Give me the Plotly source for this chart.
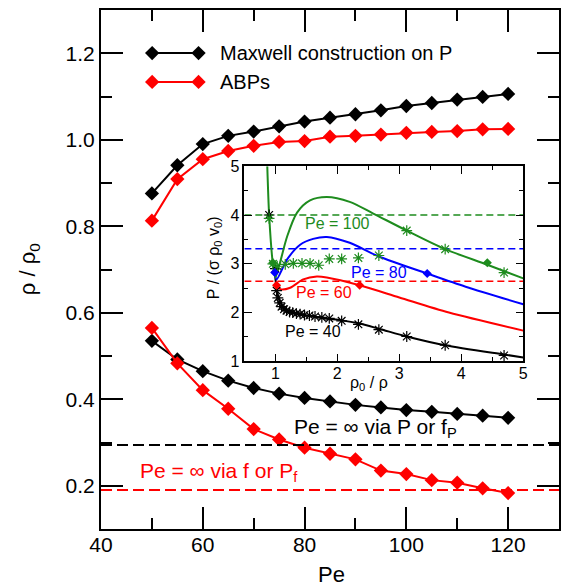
import plotly.graph_objects as go

# ---------------- main panel data ----------------
pe = [50, 55, 60, 65, 70, 75, 80, 85, 90, 95, 100, 105, 110, 115, 120]
maxwell_high = [0.876, 0.941, 0.990, 1.009, 1.019, 1.031, 1.042, 1.051, 1.059, 1.068, 1.078, 1.085, 1.093, 1.099, 1.106]
abp_high = [0.813, 0.909, 0.955, 0.974, 0.986, 0.995, 0.997, 1.007, 1.009, 1.012, 1.016, 1.018, 1.020, 1.024, 1.025]
maxwell_low = [0.535, 0.492, 0.465, 0.443, 0.426, 0.413, 0.403, 0.395, 0.387, 0.381, 0.375, 0.371, 0.366, 0.362, 0.357]
abp_low = [0.565, 0.483, 0.421, 0.378, 0.331, 0.307, 0.288, 0.274, 0.261, 0.235, 0.227, 0.213, 0.207, 0.194, 0.183]
pe_span = [40, 130]
inf_via_P = 0.294
inf_via_f = 0.190

# ---------------- inset data ----------------
c100_x = [0.87, 0.90, 0.96, 1.00, 1.07, 1.19, 1.35, 1.56, 1.83, 2.20, 2.58, 3.12, 3.74, 4.42, 5.00]
c100_y = [5.00, 4.00, 3.00, 2.72, 3.00, 3.56, 4.05, 4.30, 4.37, 4.27, 4.03, 3.68, 3.30, 2.98, 2.70]
c80_x = [0.99, 1.02, 1.19, 1.40, 1.61, 1.83, 2.20, 2.67, 3.45, 4.07, 5.00]
c80_y = [2.82, 2.68, 3.09, 3.39, 3.51, 3.55, 3.43, 3.15, 2.80, 2.53, 2.17]
c60_x = [1.02, 1.08, 1.24, 1.45, 1.67, 1.83, 2.36, 3.00, 3.80, 5.00]
c60_y = [2.56, 2.48, 2.51, 2.68, 2.74, 2.72, 2.56, 2.31, 2.00, 1.63]
c40_x = [0.99, 1.03, 1.08, 1.19, 1.45, 1.80, 2.07, 2.34, 2.67, 3.12, 3.74, 4.69, 5.00]
c40_y = [2.85, 2.41, 2.21, 2.04, 1.95, 1.88, 1.84, 1.78, 1.67, 1.51, 1.33, 1.14, 1.08]

s40_x = [0.90, 1.00, 1.02, 1.04, 1.07, 1.10, 1.14, 1.18, 1.23, 1.28, 1.34, 1.40, 1.47, 1.55, 1.64, 1.75, 1.87, 2.07, 2.34, 2.67, 3.12, 3.74, 4.69]
s40_y = [4.00, 2.90, 2.45, 2.30, 2.20, 2.12, 2.07, 2.04, 2.01, 2.00, 1.98, 1.97, 1.95, 1.94, 1.92, 1.90, 1.88, 1.83, 1.76, 1.65, 1.51, 1.33, 1.12]
s100_x = [0.90, 0.96, 1.03, 1.16, 1.29, 1.43, 1.56, 1.70, 1.87, 2.07, 2.34, 2.67, 3.12, 3.74, 4.69]
s100_y = [3.93, 3.00, 2.95, 2.99, 3.01, 3.01, 3.01, 2.97, 3.10, 3.10, 3.12, 3.17, 3.68, 3.30, 2.82]

d100_x, d100_y = [0.96, 4.42], [3.02, 3.02]
d80_x, d80_y = [0.99, 3.45], [2.82, 2.80]
d60_x, d60_y = [1.02, 2.36], [2.56, 2.56]

inset_span = [0.5, 5.0]
p_coex_100 = 4.00
p_coex_80 = 3.31
p_coex_60 = 2.64

GREEN = "#1e8c1e"
FONT = "Liberation Sans, Arial, Helvetica, sans-serif"

fig = go.Figure()


def main_line(y, color):
    fig.add_trace(go.Scatter(
        x=pe, y=y, mode="lines+markers", xaxis="x", yaxis="y",
        line=dict(color=color, width=2),
        marker=dict(symbol="diamond", size=11, color=color),
        showlegend=False, hoverinfo="skip"))


main_line(maxwell_high, "black")
main_line(abp_high, "red")
main_line(maxwell_low, "black")
main_line(abp_low, "red")

fig.add_trace(go.Scatter(x=pe_span, y=[inf_via_P, inf_via_P], mode="lines",
                         line=dict(color="black", width=2, dash="11px,5px"),
                         showlegend=False, hoverinfo="skip"))
fig.add_trace(go.Scatter(x=pe_span, y=[inf_via_f, inf_via_f], mode="lines",
                         line=dict(color="red", width=2, dash="11px,5px"),
                         showlegend=False, hoverinfo="skip"))

# inset
for yv, col in [(p_coex_100, GREEN), (p_coex_80, "blue"), (p_coex_60, "red")]:
    fig.add_trace(go.Scatter(x=inset_span, y=[yv, yv], mode="lines", xaxis="x2", yaxis="y2",
                             line=dict(color=col, width=1.5, dash="7px,4px"),
                             showlegend=False, hoverinfo="skip"))

for cx, cy, col in [(c40_x, c40_y, "black"), (c60_x, c60_y, "red"),
                    (c80_x, c80_y, "blue"), (c100_x, c100_y, GREEN)]:
    fig.add_trace(go.Scatter(x=cx, y=cy, mode="lines", xaxis="x2", yaxis="y2",
                             line=dict(color=col, width=2, shape="spline", smoothing=0.8),
                             showlegend=False, hoverinfo="skip"))

fig.add_trace(go.Scatter(x=s40_x, y=s40_y, mode="markers", xaxis="x2", yaxis="y2",
                         marker=dict(symbol="asterisk-open", size=9, color="black",
                                     line=dict(color="black", width=1.2)),
                         showlegend=False, hoverinfo="skip"))
fig.add_trace(go.Scatter(x=s100_x, y=s100_y, mode="markers", xaxis="x2", yaxis="y2",
                         marker=dict(symbol="asterisk-open", size=9, color=GREEN,
                                     line=dict(color=GREEN, width=1.2)),
                         showlegend=False, hoverinfo="skip"))
for dx, dy, col in [(d100_x, d100_y, GREEN), (d80_x, d80_y, "blue"), (d60_x, d60_y, "red")]:
    fig.add_trace(go.Scatter(x=dx, y=dy, mode="markers", xaxis="x2", yaxis="y2",
                             marker=dict(symbol="diamond", size=7, color=col),
                             showlegend=False, hoverinfo="skip"))

# legend samples on an overlay axis spanning the plot area
leg_x = [0.1117, 0.213]
for yy, col in [(0.917, "black"), (0.8615, "red")]:
    fig.add_trace(go.Scatter(x=leg_x, y=[yy, yy], mode="lines+markers", xaxis="x3", yaxis="y3",
                             line=dict(color=col, width=2),
                             marker=dict(symbol="diamond", size=11, color=col),
                             showlegend=False, hoverinfo="skip"))

# empty traces so the minor-tick overlay axes are instantiated
fig.add_trace(go.Scatter(x=[], y=[], xaxis="x4", yaxis="y4", showlegend=False, hoverinfo="skip"))
fig.add_trace(go.Scatter(x=[], y=[], xaxis="x5", yaxis="y5", showlegend=False, hoverinfo="skip"))

main_ax = dict(showline=True, linewidth=2, linecolor="black", mirror="ticks",
               ticks="inside", ticklen=22, tickwidth=2, tickcolor="black",
               showgrid=False, zeroline=False,
               tickfont=dict(family=FONT, size=21, color="black"))
main_minor = dict(showline=False, mirror="ticks", ticks="inside", ticklen=11, tickwidth=2,
                  tickcolor="black", showgrid=False, zeroline=False, showticklabels=False)
inset_ax = dict(showline=True, linewidth=1.5, linecolor="black", mirror="ticks",
                ticks="inside", ticklen=8, tickwidth=1.2, tickcolor="black",
                showgrid=False, zeroline=False,
                tickfont=dict(family=FONT, size=16, color="black"))
inset_minor = dict(showline=False, mirror="ticks", ticks="inside", ticklen=4, tickwidth=1.2,
                   tickcolor="black", showgrid=False, zeroline=False, showticklabels=False)

fig.update_layout(
    width=566, height=588,
    margin=dict(l=101, r=2, t=9, b=59),
    paper_bgcolor="white", plot_bgcolor="rgba(0,0,0,0)",
    showlegend=False,
    xaxis=dict(range=[40, 130], dtick=20, tick0=0, domain=[0, 1], anchor="y",
               ticklabelstandoff=-4, **main_ax),
    yaxis=dict(range=[0.1, 1.3], dtick=0.2, tick0=0, tickformat=".1f", domain=[0, 1], anchor="x", **main_ax),
    xaxis4=dict(range=[40, 130], dtick=10, tick0=0, overlaying="x", anchor="y", **main_minor),
    yaxis4=dict(range=[0.1, 1.3], dtick=0.1, tick0=0, overlaying="y", anchor="x", **main_minor),
    xaxis2=dict(range=[0.5, 5], dtick=1, tick0=0, domain=[0.313, 0.922], anchor="y2",
                ticklabelstandoff=-3, **inset_ax),
    yaxis2=dict(range=[1, 5], dtick=1, tick0=0, domain=[0.323, 0.699], anchor="x2", **inset_ax),
    xaxis5=dict(range=[0.5, 5], dtick=0.5, tick0=0, overlaying="x2", anchor="y2", **inset_minor),
    yaxis5=dict(range=[1, 5], dtick=0.5, tick0=0, overlaying="y2", anchor="x2", **inset_minor),
    xaxis3=dict(range=[0, 1], domain=[0, 1], anchor="y3", visible=False, fixedrange=True),
    yaxis3=dict(range=[0, 1], domain=[0, 1], anchor="x3", visible=False, fixedrange=True),
)

ann = []
ann.append(dict(text="Pe", xref="paper", yref="paper", x=0.503, y=-0.088, showarrow=False,
                font=dict(family=FONT, size=22, color="black"), xanchor="center", yanchor="middle"))
ann.append(dict(text="ρ / ρ<sub>0</sub>", xref="paper", yref="paper", x=-0.158, y=0.5, showarrow=False,
                textangle=-90, font=dict(family=FONT, size=22, color="black"), xanchor="center", yanchor="middle"))
ann.append(dict(text="P / (σ ρ<sub>0</sub> v<sub>0</sub>)", xref="paper", yref="paper", x=0.248, y=0.523,
                showarrow=False, textangle=-90, font=dict(family=FONT, size=16, color="black"),
                xanchor="center", yanchor="middle"))
ann.append(dict(text="ρ<sub>0</sub> / ρ", xref="paper", yref="paper", x=0.585, y=0.280, showarrow=False,
                font=dict(family=FONT, size=16, color="black"), xanchor="center", yanchor="middle"))
ann.append(dict(text="Maxwell construction on P", xref="paper", yref="paper", x=0.256, y=0.917,
                showarrow=False, font=dict(family=FONT, size=20, color="black"), xanchor="left", yanchor="middle"))
ann.append(dict(text="ABPs", xref="paper", yref="paper", x=0.256, y=0.8615,
                showarrow=False, font=dict(family=FONT, size=20, color="black"), xanchor="left", yanchor="middle"))
ann.append(dict(text="Pe = ∞ via P or f<sub>P</sub>", xref="x", yref="y", x=77.5, y=0.333, showarrow=False,
                font=dict(family=FONT, size=21, color="black"), xanchor="left", yanchor="middle"))
ann.append(dict(text="Pe = ∞ via f or P<sub>f</sub>", xref="x", yref="y", x=47.2, y=0.231, showarrow=False,
                font=dict(family=FONT, size=21, color="red"), xanchor="left", yanchor="middle"))
for t, x, y, col in [("Pe = 100", 2.0, 3.82, GREEN), ("Pe = 80", 2.67, 2.82, "blue"),
                     ("Pe = 60", 1.79, 2.42, "red"), ("Pe = 40", 1.6, 1.61, "black")]:
    ann.append(dict(text=t, xref="x2", yref="y2", x=x, y=y, showarrow=False,
                    font=dict(family=FONT, size=16, color=col), xanchor="center", yanchor="middle"))
fig.update_layout(annotations=ann)

fig.write_html("out.html", config={"displayModeBar": False},
               post_script="document.body.style.margin='0';")
